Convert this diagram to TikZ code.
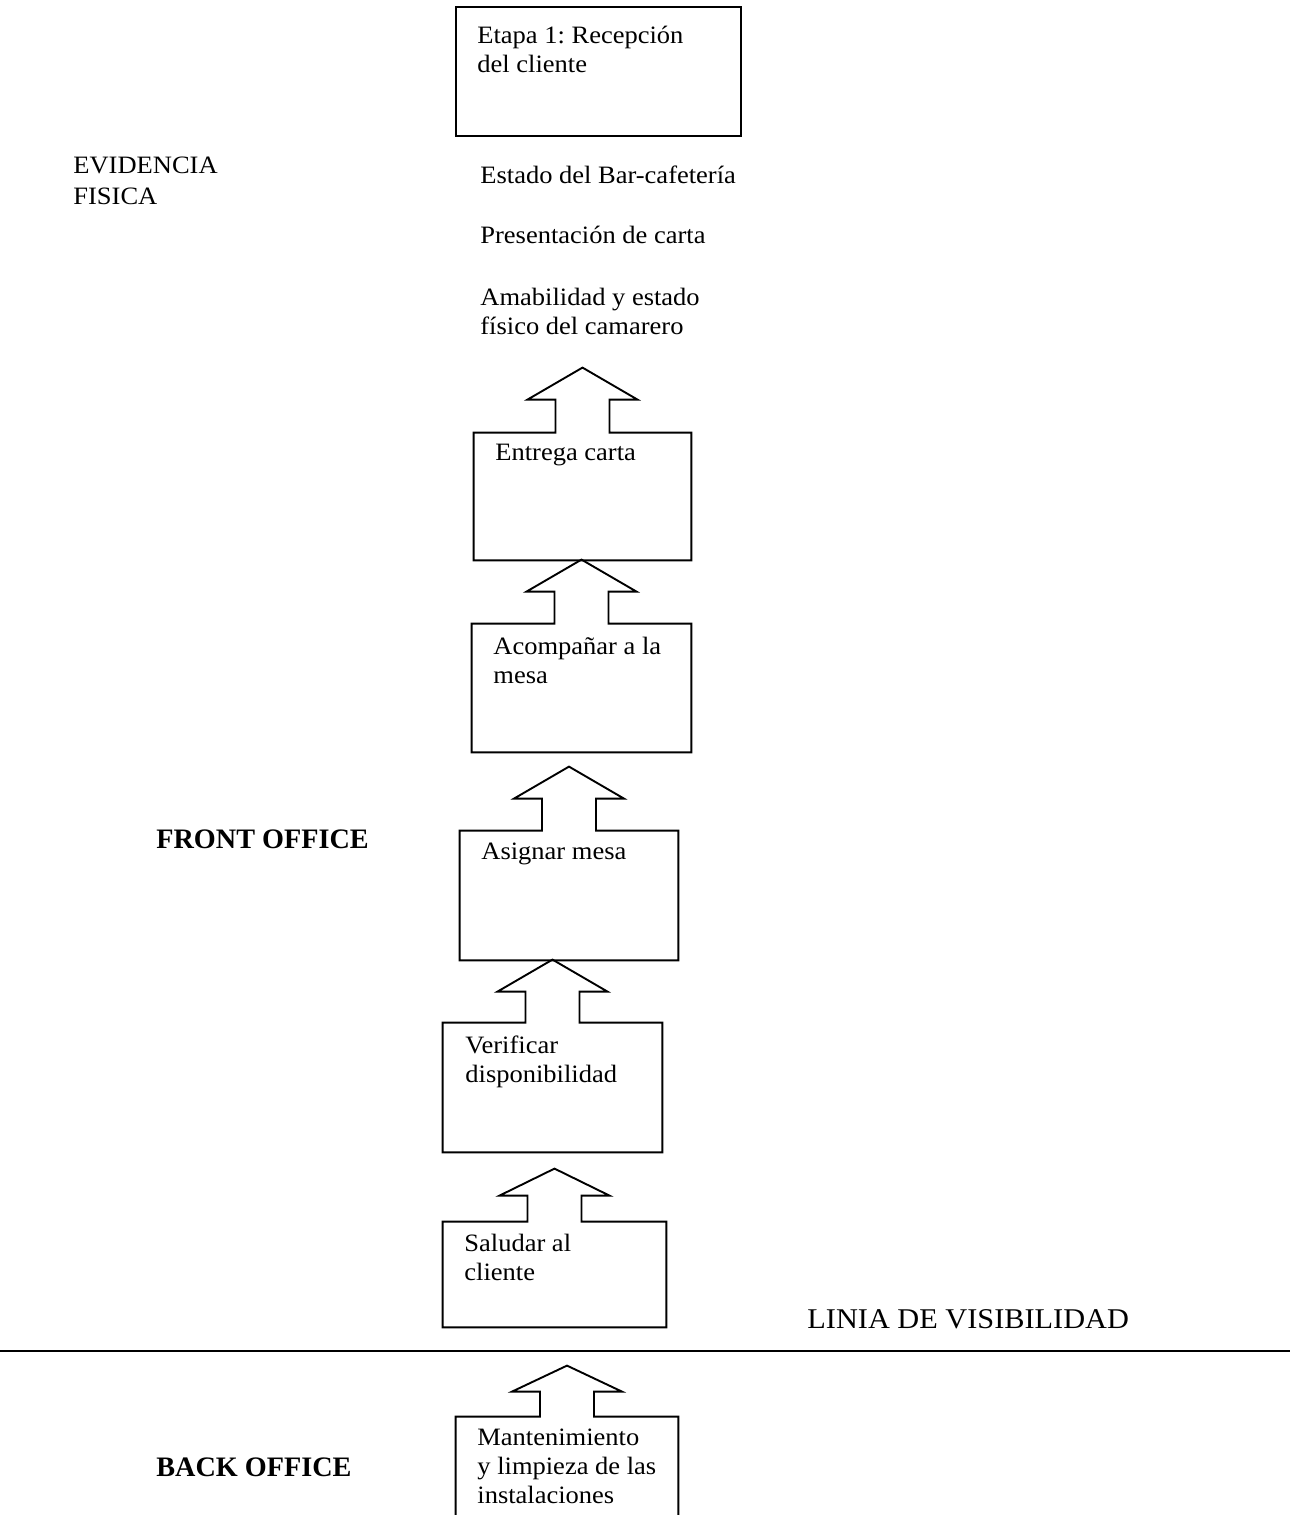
\documentclass[tikz,border=0pt]{standalone}
\usepackage{fontspec}
\setmainfont{Liberation Serif}[FakeStretch=1.06]
\newfontfamily\headfont{Liberation Serif}
\usetikzlibrary{calc,fit}
\frenchspacing

\tikzset{
  boxline/.style={line width=0.95pt, line join=miter},
  stepbody/.style={inner sep=0pt, draw=none},
  % multi-line labels are placed by the baseline of their last line
  txt/.style={anchor=base west, inner sep=0pt, align=left,
              font=\fontsize{12.5}{14.5}\selectfont},
  office/.style={anchor=base west, inner sep=0pt,
                 font=\headfont\bfseries\fontsize{14.1}{16}\selectfont},
  linelabel/.style={anchor=base west, inner sep=0pt,
                    font=\fontsize{14.3}{16}\selectfont},
}

% outline of a step box with a hollow up-arrow rising from its top edge
% #1 box node, #2 stem height, #3 head height
\newcommand{\arrowbox}[3]{%
  \draw[boxline] (#1.south west) -- (#1.north west)
    -- ($(#1.north)+(-27,0)$) -- ++(0,-#2) -- ++(-28,0)
    -- ($(#1.north)+(0,-#2-#3)$)
    -- ($(#1.north)+(55,-#2)$) -- ++(-28,0)
    -- ($(#1.north)+(27,0)$) -- (#1.north east)
    -- (#1.south east) -- cycle;}

\begin{document}
\begin{tikzpicture}[x=0.5pt,y=-0.5pt]
\useasboundingbox (0,0) rectangle (1290,1515);

% stage header
\node[draw, boxline, inner sep=0pt, fit={(456,7) (741,136)}] (etapa) {};
\node[txt] (etapa-t) at (477,72) {Etapa 1: Recepción\\del cliente};

% physical evidence
\node[txt, font=\fontsize{12.5}{15.3}\selectfont] (evid) at (73,204) {EVIDENCIA\\FISICA};
\node[txt] (ev1) at (480,183) {Estado del Bar-cafetería};
\node[txt] (ev2) at (480,243) {Presentación de carta};
\node[txt] (ev3) at (480,334) {Amabilidad y estado\\físico del camarero};

% front office steps
\node[stepbody, fit={(474,433) (691,560)}] (entrega) {};
\arrowbox{entrega}{33}{32}
\node[txt] (entrega-t) at (495,460) {Entrega carta};

\node[stepbody, fit={(472,624) (691,752)}] (acomp) {};
\arrowbox{acomp}{32}{32}
\node[txt] (acomp-t) at (493,683) {Acompañar a la\\mesa};

\node[stepbody, fit={(460,831) (678,960)}] (asignar) {};
\arrowbox{asignar}{32}{32}
\node[txt] (asignar-t) at (481,859) {Asignar mesa};

\node[stepbody, fit={(443,1023) (662,1152)}] (verif) {};
\arrowbox{verif}{31}{32}
\node[txt] (verif-t) at (465,1082) {Verificar\\disponibilidad};

\node[stepbody, fit={(443,1222) (666,1327)}] (saludar) {};
\arrowbox{saludar}{26}{27}
\node[txt] (saludar-t) at (464,1280) {Saludar al\\cliente};

\node[office] (front) at (156,848) {FRONT OFFICE};

% line of visibility
\coordinate (vis-l) at (0,1351);
\coordinate (vis-r) at (1290,1351);
\draw[line width=1pt] (vis-l) -- (vis-r);
\node[linelabel] (vis-t) at (807,1328) {LINIA DE VISIBILIDAD};

% back office step (runs past the lower edge)
\node[stepbody, fit={(456,1417) (678,1530)}] (mant) {};
\draw[boxline] (mant.south west) -- (mant.north west)
    -- ($(mant.north)+(-27,0)$) -- ++(0,-25) -- ++(-28,0)
    -- ($(mant.north)+(0,-51)$)
    -- ($(mant.north)+(55,-25)$) -- ++(-28,0)
    -- ($(mant.north)+(27,0)$) -- (mant.north east)
    -- (mant.south east);
\node[txt] (mant-t) at (477,1503) {Mantenimiento\\y limpieza de las\\instalaciones};

\node[office] (back) at (156,1476) {BACK OFFICE};
\end{tikzpicture}
\end{document}
